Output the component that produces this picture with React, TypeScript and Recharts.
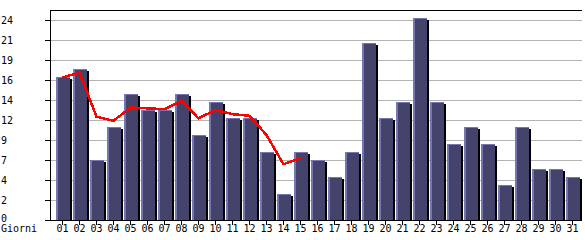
import React from "react";
import { ComposedChart, Bar, Line, XAxis, YAxis, CartesianGrid, ReferenceLine } from "recharts";

const days = ["01","02","03","04","05","06","07","08","09","10","11","12","13","14","15","16","17","18","19","20","21","22","23","24","25","26","27","28","29","30","31"];
const visits = [17,18,7,11,15,13,13,15,10,14,12,12,8,3,8,7,5,8,21,12,14,24,14,9,11,9,4,11,6,6,5];
const trend: (number | null)[] = [17.1,17.7,12.4,11.9,13.5,13.4,13.3,14.3,12.2,13.2,12.7,12.5,10.2,6.7,7.4,null,null,null,null,null,null,null,null,null,null,null,null,null,null,null,null];
const yTicks = [0, 2.4, 4.8, 7.2, 9.6, 12, 14.4, 16.8, 19.2, 21.6, 24];
const yMax = 25.2;
const xLabel = "Giorni";

const data = days.map((d, i) => ({ day: d, visits: visits[i], trend: trend[i] }));

const FONT = "'DejaVu Sans Mono', monospace";

const BarShape = (props: any) => {
  const { x, y, width, height } = props;
  if (height == null || height <= 0) return null;
  const bottom = y + height;
  const fx = Math.round(x - 0.5);
  const fy = Math.floor(y) - 1;
  const w = Math.round(width);
  const h = bottom - fy;
  return (
    <g>
      <rect x={fx + 2} y={fy + 2} width={w} height={h - 2} fill="#000000" />
      <rect x={fx} y={fy} width={w} height={h} fill="#43436b" />
      <rect x={fx} y={fy} width={2} height={h} fill="#7676b4" />
      <rect x={fx} y={fy} width={w} height={1} fill="#7676b4" />
    </g>
  );
};

const YTick = (props: any) => {
  const { y, payload } = props;
  const v = Math.floor(payload.value + 1e-9);
  return (
    <text x={1} y={y} dy={v === 0 ? 2 : 3.5} textAnchor="start" fontFamily={FONT} fontSize={10} fill="#000">
      {v}
    </text>
  );
};

export default function App() {
  return (
    <div style={{ position: "absolute", left: 0, top: 0, width: 585, height: 240, background: "#fff" }}>
      <style>{`.cx svg line, .cx svg path, .cx svg rect { shape-rendering: crispEdges; }`}</style>
      <div className="cx">
        <ComposedChart width={585} height={240} data={data} margin={{ top: 10, right: 3, bottom: 0, left: 0 }} barSize={14}>
          <CartesianGrid horizontal vertical={false} stroke="#b4b4b4" strokeDasharray="" />
          <XAxis
            dataKey="day"
            interval={0}
            height={20}
            tickSize={5}
            tickMargin={0}
            padding={{ left: 4, right: 1 }}
            axisLine={{ stroke: "#000" }}
            tickLine={{ stroke: "#000" }}
            tick={{ fontFamily: FONT, fontSize: 10, fill: "#000" }}
            label={(p: any) => {
              const vb = p.viewBox || { y: 220 };
              return (
                <text x={1} y={vb.y + 12} fontFamily={FONT} fontSize={10} fill="#000">
                  {xLabel}
                </text>
              );
            }}
          />
          <YAxis
            width={50}
            domain={[0, yMax]}
            ticks={yTicks}
            interval={0}
            tickSize={5}
            axisLine={{ stroke: "#000" }}
            tickLine={{ stroke: "#000" }}
            tick={<YTick />}
          />
          <YAxis
            yAxisId="r"
            orientation="right"
            width={0}
            domain={[0, yMax]}
            tick={false}
            tickLine={false}
            axisLine={{ stroke: "#000" }}
          />
          <ReferenceLine y={yMax} stroke="#000" />
          <Bar dataKey="visits" shape={<BarShape />} isAnimationActive={false} />
          <Line dataKey="trend" stroke="#ff0000" strokeWidth={2.5} dot={false} activeDot={false} connectNulls={false} isAnimationActive={false} />
        </ComposedChart>
      </div>
    </div>
  );
}
